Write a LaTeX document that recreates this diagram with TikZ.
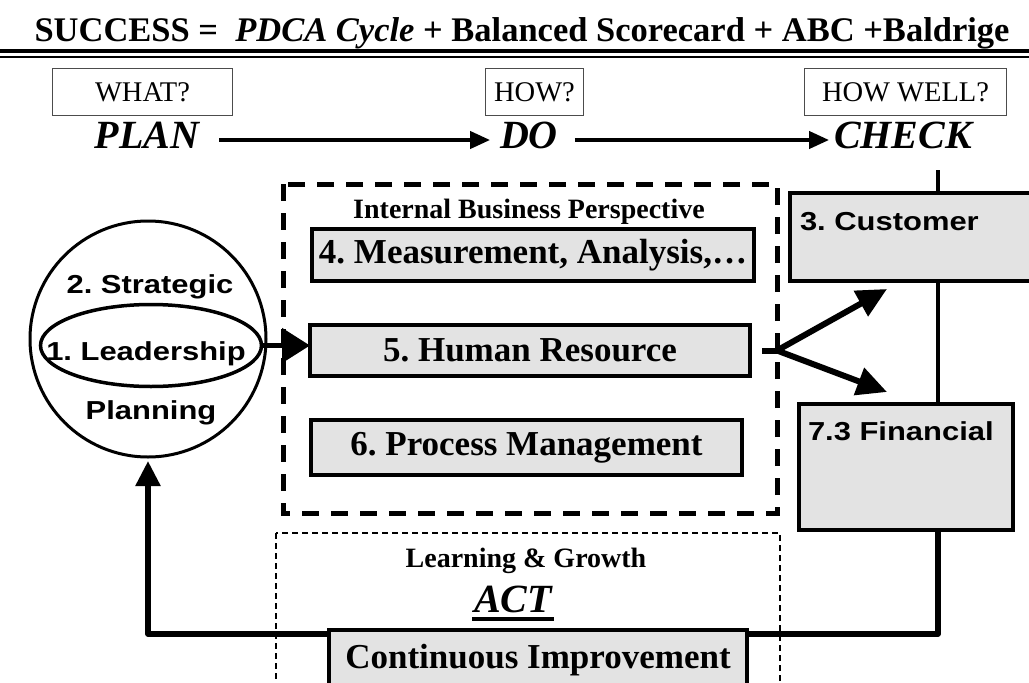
\documentclass[tikz,border=0pt]{standalone}
\usepackage{fontspec}
\setmainfont{Liberation Serif}
\newfontfamily\widesans[FakeStretch=1.19]{Liberation Sans}
\usetikzlibrary{shapes.geometric,arrows.meta}
\definecolor{boxgray}{HTML}{E3E3E3}
\frenchspacing

\begin{document}
\begin{tikzpicture}[x=1pt, y=-1pt,
    every node/.style={inner sep=0pt, outer sep=0pt},
    qbox/.style={draw=black!70, line width=1pt, minimum height=47pt, font=\fontsize{28.5}{30}\selectfont},
    phase/.style={anchor=base, font=\fontsize{40}{44}\selectfont\bfseries\itshape},
    graybox/.style={draw, fill=boxgray, line width=4pt, font=\fontsize{35}{40}\selectfont\bfseries},
    sansbox/.style={draw, fill=boxgray, line width=4pt},
    sanstext/.style={anchor=base west, font=\widesans\fontsize{26}{30}\selectfont\bfseries},
    persp/.style={anchor=base, font=\fontsize{28}{32}\selectfont\bfseries},
    thin arrow/.style={line width=4pt, -{Triangle[length=20pt,width=17pt]}},
    fat arrow/.style={line width=6pt, -{Triangle[length=30pt,width=28pt]}},
    link/.style={line width=4.5pt},
  ]
    \useasboundingbox (0,0) rectangle (1029,683);

    % Title with double rule
    \node[anchor=base, font=\fontsize{34.5}{38}\selectfont\bfseries] (title) at (522,41)
        {SUCCESS =~ \textit{PDCA Cycle} + Balanced Scorecard + ABC +Baldrige};
    \draw[line width=4pt] (0,51.3) -- (1029,51.3);
    \draw[line width=1.5pt] (0,56.8) -- (1029,56.8);

    % Questions and PDCA phases
    \node[qbox, minimum width=180pt] (what) at (142.5,92) {WHAT?};
    \node[qbox, minimum width=98pt] (how) at (534.5,92) {HOW?};
    \node[qbox, minimum width=202pt] (howwell) at (905.5,92) {HOW WELL?};

    \node[phase] (plan) at (147,148) {PLAN};
    \node[phase] (do) at (529,148) {DO};
    \node[phase] (check) at (903,148) {CHECK};

    \draw[thin arrow] ([shift={(20,-8)}]plan.base east) -- ([shift={(-10,-8)}]do.base west);
    \draw[thin arrow] ([shift={(17,-8)}]do.base east) -- ([shift={(-5,-8)}]check.base west);

    % Strategic planning circle with leadership
    \node[circle, draw, line width=3pt, minimum size=236pt] (strat) at (148,339) {};
    \node[sanstext, anchor=base] (stratlbl) at ([shift={(2,-46)}]strat.center) {2. Strategic};
    \node[sanstext, anchor=base] (planlbl) at ([shift={(3,80)}]strat.center) {Planning};
    \node[ellipse, draw, line width=3.5pt, minimum width=221pt, minimum height=82pt] (lead) at (151,345.5) {};
    \node[sanstext, anchor=base] (leadlbl) at ([shift={(-5,14.5)}]lead.center) {1. Leadership};

    % Internal business perspective
    \draw[line width=5pt, dash pattern=on 17pt off 12pt] (283,184) rectangle (777,513);
    \node[persp] (internal) at (529,218) {Internal Business Perspective};
    \node[graybox, minimum width=442pt, minimum height=52pt] (measure) at (533,255) {4. Measurement, Analysis,…};
    \node[graybox, minimum width=440pt, minimum height=51pt] (human) at (530,350.5) {5. Human Resource};
    \node[graybox, minimum width=431pt, minimum height=55pt] (process) at (526.5,447.5) {6. Process Management};

    \draw[fat arrow, line width=5pt, -{Triangle[length=28pt,width=34pt]}] (lead.east) -- (lead.east -| human.west);

    % Customer and financial results
    \node[sansbox, minimum width=242pt, minimum height=88pt] (customer) at (911,237) {};
    \node[sanstext] (custlbl) at ([shift={(10,37)}]customer.north west) {3. Customer};
    \node[sansbox, minimum width=214pt, minimum height=126pt] (financial) at (906,467) {};
    \node[sanstext] (finlbl) at ([shift={(9,36)}]financial.north west) {7.3 Financial};

    \coordinate (spine) at (938,170);
    \draw[link] (spine) -- (spine |- customer.north);
    \draw[link] (customer.south -| spine) -- (financial.north -| spine);

    \coordinate (hrout) at ([xshift=12pt]human.east);
    \coordinate (fork) at (777,350.5);
    \coordinate (tipc) at (887,289);
    \coordinate (tipf) at (887,392);
    \draw[line width=6pt] (hrout) -- (fork);
    \draw[fat arrow] (fork) -- (tipc);
    \draw[fat arrow] (fork) -- (tipf);

    % Learning and growth, back to planning
    \draw[line width=1.5pt, dash pattern=on 6pt off 4pt] (276,533) rectangle (780,700);
    \node[persp] (learning) at (526,567) {Learning \& Growth};
    \node[phase] (act) at (513,612) {ACT};
    \draw[line width=3.5pt] ([shift={(-2,7)}]act.base west) -- ([shift={(2,7)}]act.base east);

    \draw[line width=5.5pt, line join=round, shorten >=4pt, -{Triangle[length=25pt,width=24pt]}]
        (financial.south -| spine) -- ++(0,104) -| (strat.south);
    \node[graybox, anchor=base, text height=24pt, text depth=50pt, inner ysep=14pt,
          minimum width=418pt] (improve) at (538,668) {Continuous Improvement};
\end{tikzpicture}
\end{document}
